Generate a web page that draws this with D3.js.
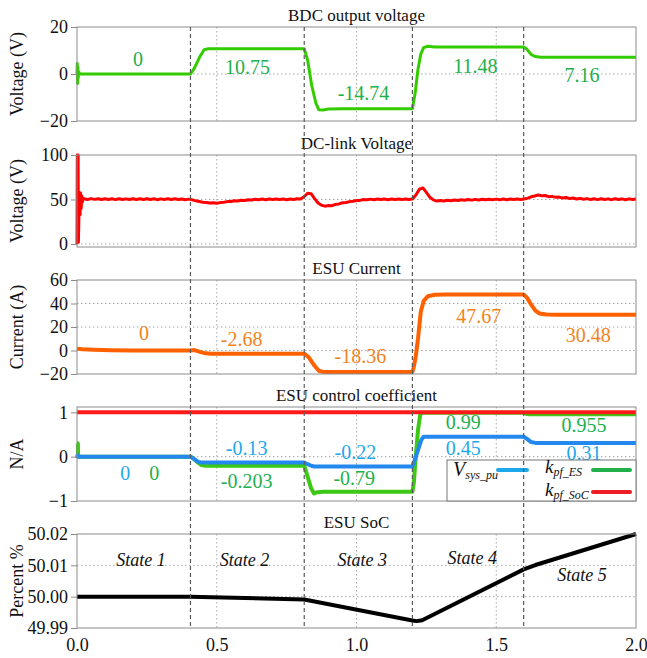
<!DOCTYPE html>
<html>
<head>
<meta charset="utf-8">
<script src="https://cdn.jsdelivr.net/npm/d3@7"></script>
<style>
  body { margin: 0; background: #fff; }
  svg { display: block; }
  svg text { font-family: "Liberation Serif", "DejaVu Serif", "Times New Roman", serif !important; }
</style>
</head>
<body>
<svg id="chart" width="647" height="658"></svg>
<script>
// ---- simulation traces, [time (s), value] ----
const bdcVoltage = [
  [0, 0], [0.001, 4.5], [0.002, -4], [0.003, 3], [0.004, -2], [0.006, 1], [0.01, 0],
  [0.406, 0], [0.42, 2.5], [0.44, 7.5], [0.455, 10.3], [0.47, 10.75],
  [0.813, 10.75], [0.825, 6], [0.84, -5], [0.855, -12.5], [0.865, -15.2], [0.88, -15.3], [0.9, -14.9], [0.95, -14.74],
  [1.2, -14.74], [1.21, -8], [1.22, 2], [1.23, 8.5], [1.24, 11.2], [1.255, 11.8], [1.28, 11.5], [1.32, 11.48],
  [1.598, 11.48], [1.61, 10.5], [1.625, 8.3], [1.64, 7.4], [1.66, 7.16], [2.0, 7.16]
];

// DC-link start-up transient
const dcLinkStart = [
  [0, 0], [0.001, 100], [0.004, 100], [0.005, 2], [0.007, 33], [0.009, 58], [0.011, 33],
  [0.013, 57], [0.015, 40], [0.017, 54], [0.019, 47], [0.022, 51.5]
];
// DC-link samples every 12.5 ms from 25 ms to 2 s
const dcLinkStep = 0.0125;
const dcLinkFrom = 0.025;
const dcLinkValues = [
  50.9, 50.0, 51.0, 50.1, 50.8, 49.9, 50.9, 50.0,
  50.8, 49.8, 50.9, 50.0, 50.7, 49.9, 50.8, 50.0,
  50.9, 49.9, 50.8, 50.0, 50.9, 49.8, 50.7, 50.0,
  50.8, 49.9, 50.9, 50.0, 50.6, 49.8, 50.4, 49.6,
  48.5, 47.8, 46.9, 46.6, 46.0, 46.4, 45.8, 46.5,
  47.0, 47.6, 47.8, 48.5, 48.4, 49.2, 48.9, 49.7,
  49.4, 50.3, 49.7, 50.5, 49.8, 50.6, 49.9, 50.6,
  49.9, 50.5, 49.8, 50.6, 50.0, 50.8, 50.5, 53.0,
  57.0, 56.5, 51.0, 46.0, 43.5, 42.5, 43.2, 43.0,
  44.5, 45.0, 46.3, 46.6, 47.6, 48.0, 48.9, 49.0,
  49.9, 49.6, 50.4, 49.8, 50.5, 49.9, 50.6, 49.8,
  50.5, 49.9, 50.6, 50.0, 50.5, 49.9, 50.5, 55.0,
  61.5, 63.0, 58.0, 52.5, 49.5, 48.2, 48.9, 48.4,
  49.1, 48.6, 49.4, 48.8, 49.6, 49.1, 49.9, 49.3,
  50.1, 49.4, 50.2, 49.6, 50.3, 49.7, 50.4, 49.8,
  50.5, 49.8, 50.6, 49.9, 50.5, 49.9, 50.6, 51.5,
  53.0, 54.0, 55.0, 54.3, 54.5, 53.2, 53.5, 52.4,
  52.7, 51.7, 52.2, 51.0, 51.6, 50.5, 51.2, 50.2,
  51.0, 49.9, 50.8, 49.8, 50.8, 49.9, 50.7, 49.8,
  50.8, 49.9, 50.7, 49.8, 50.7, 49.9, 50.6
];

const esuCurrent = [
  [0, 1.6], [0.02, 1.0], [0.06, 0.6], [0.12, 0.3], [0.2, 0.1], [0.406, 0.1],
  [0.42, 0.4], [0.44, -1.2], [0.46, -2.4], [0.48, -2.68],
  [0.813, -2.68], [0.83, -6], [0.85, -13], [0.865, -17.2], [0.88, -18.2], [0.9, -18.36],
  [1.2, -18.36], [1.205, -14], [1.212, -5], [1.22, 10], [1.23, 33], [1.24, 42], [1.255, 46.2], [1.28, 47.4], [1.32, 47.67],
  [1.598, 47.67], [1.61, 45], [1.625, 39], [1.64, 34], [1.655, 31.5], [1.68, 30.7], [1.72, 30.48], [2.0, 30.48]
];

const kpfES = [
  [0, 0.3], [0.003, 0.3], [0.004, 0], [0.406, 0], [0.415, -0.03], [0.43, -0.12], [0.445, -0.19], [0.46, -0.203],
  [0.813, -0.203], [0.825, -0.45], [0.838, -0.72], [0.848, -0.83], [0.86, -0.8], [0.88, -0.79],
  [1.2, -0.79], [1.205, -0.6], [1.212, 0], [1.22, 0.6], [1.228, 0.95], [1.235, 0.99],
  [1.598, 0.99], [1.61, 0.96], [1.62, 0.955], [2.0, 0.955]
];
const vSysPu = [
  [0, -0.03], [0.002, 0.03], [0.004, 0], [0.406, 0], [0.42, -0.06], [0.435, -0.12], [0.445, -0.13],
  [0.813, -0.13], [0.825, -0.17], [0.84, -0.21], [0.85, -0.22],
  [1.2, -0.22], [1.207, -0.1], [1.22, 0.15], [1.232, 0.38], [1.24, 0.45],
  [1.598, 0.45], [1.61, 0.4], [1.625, 0.33], [1.64, 0.31], [2.0, 0.31]
];
const kpfSoC = [[0, 1], [2, 1]];

const esuSoC = [
  [0, 50.0], [0.406, 50.0], [0.813, 49.9991], [1.2, 49.9924], [1.215, 49.9922], [1.235, 49.9925],
  [1.598, 50.0087], [1.64, 50.0101], [2.0, 50.0200]
];

// state change instants and state names
const eventTimes = [0.406, 0.813, 1.2, 1.598];
const stateNames = ["State 1", "State 2", "State 3", "State 4", "State 5"];
const stateLabelAt = [[0.229, 50.0117], [0.599, 50.0117], [1.021, 50.0117], [1.414, 50.0124], [1.807, 50.0070]];

// value annotations: [text, time, value]
const bdcNotes = [["0", 0.218, 6.3], ["10.75", 0.61, 3.0], ["-14.74", 1.025, -8.2], ["11.48", 1.425, 3.3], ["7.16", 1.807, -0.6]];
const currentNotes = [["0", 0.24, 15], ["-2.68", 0.589, 10.2], ["-18.36", 1.014, -4.8], ["47.67", 1.437, 29.1], ["30.48", 1.829, 13]];
const vSysNotes = [["0", 0.1725, -0.36], ["-0.13", 0.607, 0.2], ["-0.22", 0.996, 0.104], ["0.45", 1.382, 0.2], ["0.31", 1.814, 0.075]];
const kpfESNotes = [["0", 0.276, -0.36], ["-0.203", 0.607, -0.55], ["-0.79", 0.992, -0.49], ["0.99", 1.382, 0.78], ["0.955", 1.814, 0.707]];

// axis ticks
const timeTicks = [0, 0.5, 1.0, 1.5, 2.0];
const timeGrid = [0.5, 1.0, 1.5];

// ---- layout ----
const FONT = "'Liberation Serif', 'DejaVu Serif', 'Times New Roman', serif";
const svg = d3.select("#chart");
const left = 77, right = 636;
const x = d3.scaleLinear().domain([0, 2]).range([left, right]);

const dcLink = dcLinkStart.concat(dcLinkValues.map((v, i) => [dcLinkFrom + i * dcLinkStep, v]));

const panels = [
  { title: "BDC output voltage", ylabel: "Voltage (V)", top: 27, h: 94, domain: [-20, 20],
    ticks: [-20, 0, 20], grid: [0], fmt: d3.format("d"),
    series: [{ data: bdcVoltage, color: "#33cc00", width: 3 }],
    notes: [{ items: bdcNotes, color: "#22b04c" }] },
  { title: "DC-link Voltage", ylabel: "Voltage (V)", top: 155, h: 92, domain: [-3.4, 100],
    ticks: [0, 50, 100], grid: [0, 50], fmt: d3.format("d"),
    series: [{ data: dcLink, color: "#ff0000", width: 3 }], notes: [] },
  { title: "ESU Current", ylabel: "Current (A)", top: 280, h: 94, domain: [-20, 60],
    ticks: [-20, 0, 20, 40, 60], grid: [0, 20, 40], fmt: d3.format("d"),
    series: [{ data: esuCurrent, color: "#ff6100", width: 4 }],
    notes: [{ items: currentNotes, color: "#f28322" }] },
  { title: "ESU control coefficient", ylabel: "N/A", top: 407, h: 94, domain: [-1, 1.12],
    ticks: [-1, 0, 1], grid: [0], fmt: d3.format("d"),
    series: [{ data: kpfES, color: "#3cc814", width: 4 },
             { data: vSysPu, color: "#2489ee", width: 4 },
             { data: kpfSoC, color: "#ff1a1a", width: 4 }],
    notes: [{ items: vSysNotes, color: "#1ea8ec" }, { items: kpfESNotes, color: "#22b04c" }] },
  { title: "ESU SoC", ylabel: "Percent %", top: 534, h: 94, domain: [49.99, 50.02],
    ticks: [49.99, 50.0, 50.01, 50.02], grid: [50.0, 50.01], fmt: d3.format(".2f"),
    series: [{ data: esuSoC, color: "#000", width: 4 }], notes: [] }
];

panels.forEach(p => {
  p.y = d3.scaleLinear().domain(p.domain).range([p.top + p.h, p.top]);
});

const gridG = svg.append("g");
const dataG = svg.append("g");
const noteG = svg.append("g");
const frameG = svg.append("g");

panels.forEach(p => {
  const y = p.y;
  const bottom = p.top + p.h;

  // dotted grid
  gridG.selectAll(null).data(timeGrid).join("line")
    .attr("x1", d => x(d)).attr("x2", d => x(d))
    .attr("y1", p.top).attr("y2", bottom)
    .attr("stroke", "#a8a8a8").attr("stroke-width", 1).attr("stroke-dasharray", "1.5,2.5");
  gridG.selectAll(null).data(p.grid).join("line")
    .attr("x1", left).attr("x2", right)
    .attr("y1", d => y(d)).attr("y2", d => y(d))
    .attr("stroke", "#a8a8a8").attr("stroke-width", 1).attr("stroke-dasharray", "1.5,2.5");

  // traces
  const line = d3.line().x(d => x(d[0])).y(d => y(d[1]));
  p.series.forEach(s => {
    dataG.append("path").datum(s.data).attr("d", line)
      .attr("fill", "none").attr("stroke", s.color).attr("stroke-width", s.width)
      .attr("stroke-linejoin", "round");
  });

  // value annotations
  p.notes.forEach(n => {
    noteG.selectAll(null).data(n.items).join("text")
      .attr("x", d => x(d[1])).attr("y", d => y(d[2]))
      .attr("text-anchor", "middle").attr("dominant-baseline", "central")
      .attr("font-family", FONT).attr("font-size", 20).attr("fill", n.color)
      .text(d => d[0]);
  });

  // title
  frameG.append("text").attr("x", (left + right) / 2).attr("y", p.top - 12)
    .attr("text-anchor", "middle").attr("dominant-baseline", "central")
    .attr("font-family", FONT).attr("font-size", 17).attr("fill", "#111").text(p.title);

  // y label
  frameG.append("text")
    .attr("transform", `translate(17,${p.top + p.h / 2}) rotate(-90)`)
    .attr("text-anchor", "middle").attr("dominant-baseline", "central")
    .attr("font-family", FONT).attr("font-size", 18).attr("fill", "#111").text(p.ylabel);

  // y axis
  const ax = frameG.append("g").attr("transform", `translate(${left},0)`)
    .call(d3.axisLeft(y).tickValues(p.ticks).tickFormat(p.fmt).tickSize(6).tickPadding(3));
  ax.attr("font-family", FONT);
  ax.select(".domain").remove();
  ax.selectAll(".tick line").attr("stroke", "#8c8c8c");
  ax.selectAll(".tick text").attr("font-size", 18).attr("fill", "#111").attr("font-family", FONT);

  // frame
  frameG.append("rect").attr("x", left).attr("y", p.top).attr("width", right - left).attr("height", p.h)
    .attr("fill", "none").attr("stroke", "#8c8c8c").attr("stroke-width", 1);
});

// bottom time axis
const last = panels[panels.length - 1];
const xAx = frameG.append("g").attr("transform", `translate(0,${last.top + last.h})`)
  .call(d3.axisBottom(x).tickValues(timeTicks).tickFormat(d3.format(".1f")).tickSize(0).tickPadding(10));
xAx.attr("font-family", FONT);
xAx.select(".domain").remove();
xAx.selectAll(".tick text").attr("font-size", 18).attr("fill", "#111").attr("font-family", FONT);

// state names on the SoC panel
noteG.selectAll(null).data(stateNames).join("text")
  .attr("x", (d, i) => x(stateLabelAt[i][0])).attr("y", (d, i) => last.y(stateLabelAt[i][1]))
  .attr("text-anchor", "middle").attr("dominant-baseline", "central")
  .attr("font-family", FONT).attr("font-size", 18).attr("font-style", "italic").attr("fill", "#111")
  .text(d => d);

// legend of the coefficient panel
const coef = panels[3];
const lg = svg.append("g");
const lgX0 = 447, lgY0 = 460, lgY1 = coef.top + coef.h;
lg.append("rect").attr("x", lgX0).attr("y", lgY0).attr("width", right - lgX0).attr("height", lgY1 - lgY0)
  .attr("fill", "#fff").attr("stroke", "#777").attr("stroke-width", 1);
const legendItems = [
  { main: "V", size: 20, sub: "sys_pu", color: "#1ea8ec", tx: 453, ty: 476, lx0: 498, lx1: 527, ly: 470 },
  { main: "k", size: 19, sub: "pf_ES", color: "#22b04c", tx: 545, ty: 473, lx0: 593, lx1: 630, ly: 470 },
  { main: "k", size: 19, sub: "pf_SoC", color: "#ee1c24", tx: 545, ty: 496, lx0: 593, lx1: 630, ly: 492 }
];
legendItems.forEach(it => {
  const t = lg.append("text").attr("x", it.tx).attr("y", it.ty)
    .attr("font-family", FONT).attr("font-style", "italic").attr("fill", "#111");
  t.append("tspan").attr("font-size", it.size).text(it.main);
  t.append("tspan").attr("font-size", 12).attr("dy", 3).text(it.sub);
  lg.append("line").attr("x1", it.lx0).attr("x2", it.lx1).attr("y1", it.ly).attr("y2", it.ly)
    .attr("stroke", it.color).attr("stroke-width", 4).attr("stroke-linecap", "round");
});

// dashed state boundaries across all panels
svg.append("g").selectAll("line").data(eventTimes).join("line")
  .attr("x1", d => x(d)).attr("x2", d => x(d))
  .attr("y1", panels[0].top).attr("y2", last.top + last.h - 2)
  .attr("stroke", "#5a5a5a").attr("stroke-width", 1.2).attr("stroke-dasharray", "4,3");
</script>
</body>
</html>
